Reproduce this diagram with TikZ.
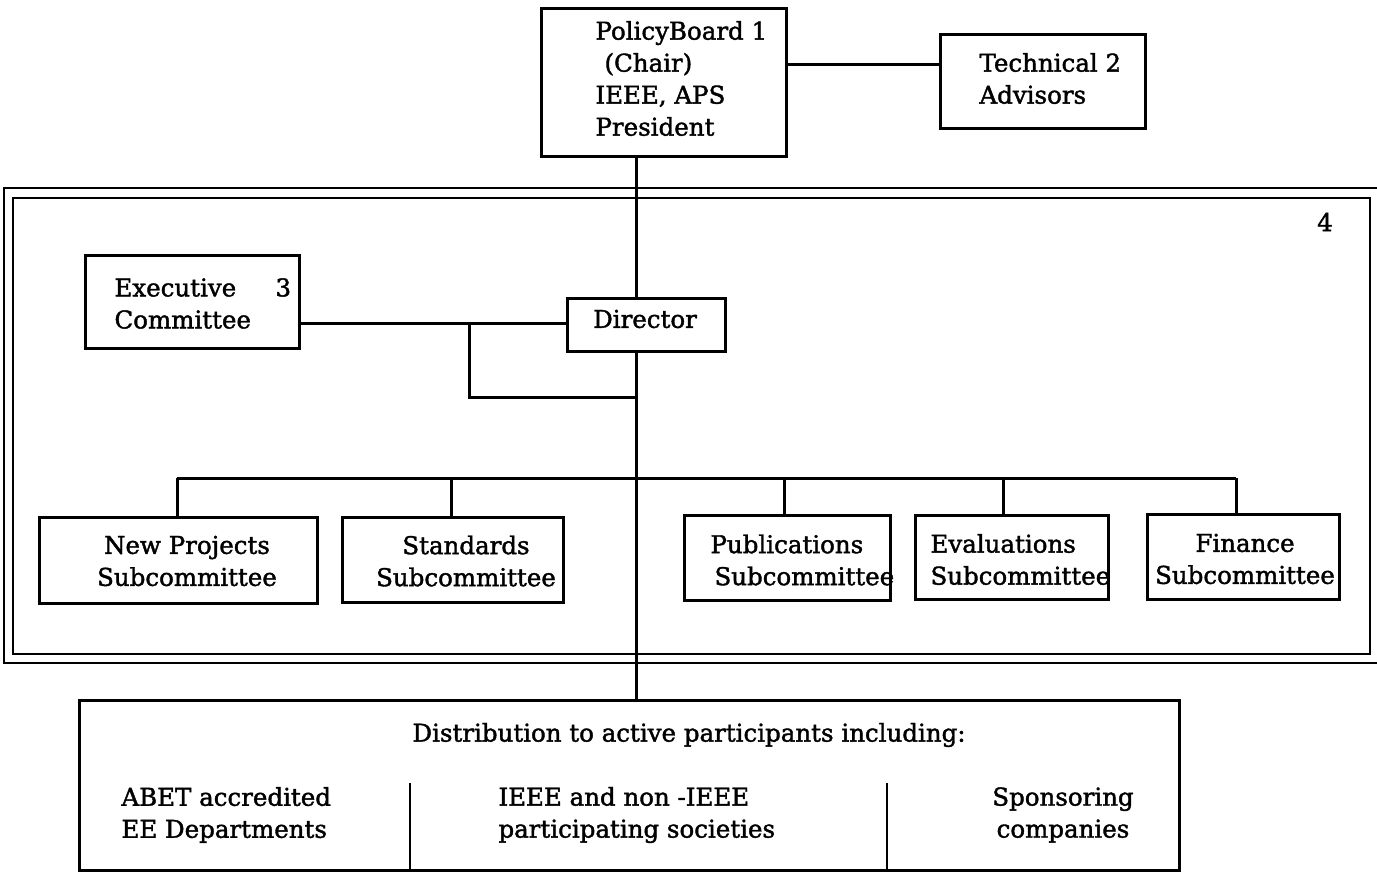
\documentclass[tikz,border=0pt]{standalone}
\usepackage{fontspec}
\setmainfont{DejaVu Serif}[FakeBold=1.6]
\begin{document}
\begin{tikzpicture}[x=1pt,y=-1pt,line width=3pt,
  box/.style={draw,rectangle,inner sep=0pt},
  frame/.style={draw,line width=2.6pt},
  txt/.style={inner sep=0pt,font=\fontsize{24.5}{32}\selectfont,align=left},
  txtc/.style={inner sep=0pt,font=\fontsize{24.5}{32}\selectfont,align=center}]
\useasboundingbox (0,0) rectangle (1377,872);
% frames
\draw[frame] (4,188) rectangle (1384,663);
\draw[frame] (13,198) rectangle (1370,654);
\node[txt] (n4) at (1325,222) {4};
% boxes
\node[box,minimum width=245,minimum height=148] (pb) at (663.5,83) {};
\node[box,minimum width=205,minimum height=94] (tech) at (1042.5,82) {};
\node[box,minimum width=214,minimum height=93] (exec) at (192,301.5) {};
\node[box,minimum width=158,minimum height=53] (dir) at (646,324.5) {};
\node[box,minimum width=278,minimum height=86] (np) at (178,560) {};
\node[box,minimum width=221,minimum height=85] (st) at (452.5,559.5) {};
\node[box,minimum width=206,minimum height=85] (pu) at (787,557.5) {};
\node[box,minimum width=193,minimum height=84] (ev) at (1011.5,557) {};
\node[box,minimum width=192,minimum height=85] (fi) at (1243,556.5) {};
\node[box,minimum width=1100,minimum height=170] (bot) at (629,785) {};
% texts
\node[txt,anchor=west] (tpb) at (594,78.5) {PolicyBoard 1\\\hspace{9pt}(Chair)\\IEEE, APS\\President};
\node[txt,anchor=west] (ttech) at (978,78.5) {Technical 2\\Advisors};
\node[txt,anchor=west] (texec) at (113,303.5) {\makebox[161pt][l]{Executive}3\\Committee};
\node[txt] (tdir) at (645,319) {Director};
\node[txtc] (tnp) at (187,561) {New Projects\\Subcommittee};
\node[txtc] (tst) at (466,561) {Standards\\Subcommittee};
\node[txt,anchor=west] (tpu) at (709,560) {Publications\\\hspace{4pt}Subcommittee};
\node[txt,anchor=west] (tev) at (929,559.5) {Evaluations\\Subcommittee};
\node[txtc] (tfi) at (1245,559) {Finance\\Subcommittee};
\node[txtc] (tdist) at (689,735) {Distribution to active participants including:};
\node[txt,anchor=west] (tabet) at (120,815) {ABET accredited\\EE Departments};
\node[txt,anchor=west] (tieee) at (497,815) {IEEE and non -IEEE\\participating societies};
\node[txtc] (tsp) at (1063,815) {Sponsoring\\companies};
% column dividers
\coordinate (c1) at (410,783);
\coordinate (c2) at (887,783);
\draw[line width=2.2pt] (c1) -- (c1 |- bot.south);
\draw[line width=2.2pt] (c2) -- (c2 |- bot.south);
% connectors
\coordinate (tx) at (636,0);
\draw ([yshift=18pt]pb.east) -- ([yshift=18pt]pb.east -| tech.west);
\draw (pb.south -| tx) -- (dir.north -| tx);
\draw (dir.south -| tx) -- (bot.north -| tx);
\coordinate (ex) at ([yshift=-21.5pt]exec.east);
\draw (ex) -- (ex -| dir.west);
\coordinate (j1) at (469,323);
\coordinate (j2) at (636,397);
\draw (j1) |- (j2);
\coordinate (busL) at (177,478);
\coordinate (busR) at (1236,478);
\draw (busL) -- (busR);
\coordinate (d2) at (451,478);
\coordinate (d3) at (784,478);
\coordinate (d4) at (1003,478);
\draw (busL) -- (busL |- np.north);
\draw (d2) -- (d2 |- st.north);
\draw (d3) -- (d3 |- pu.north);
\draw (d4) -- (d4 |- ev.north);
\draw (busR) -- (busR |- fi.north);
\end{tikzpicture}
\end{document}
